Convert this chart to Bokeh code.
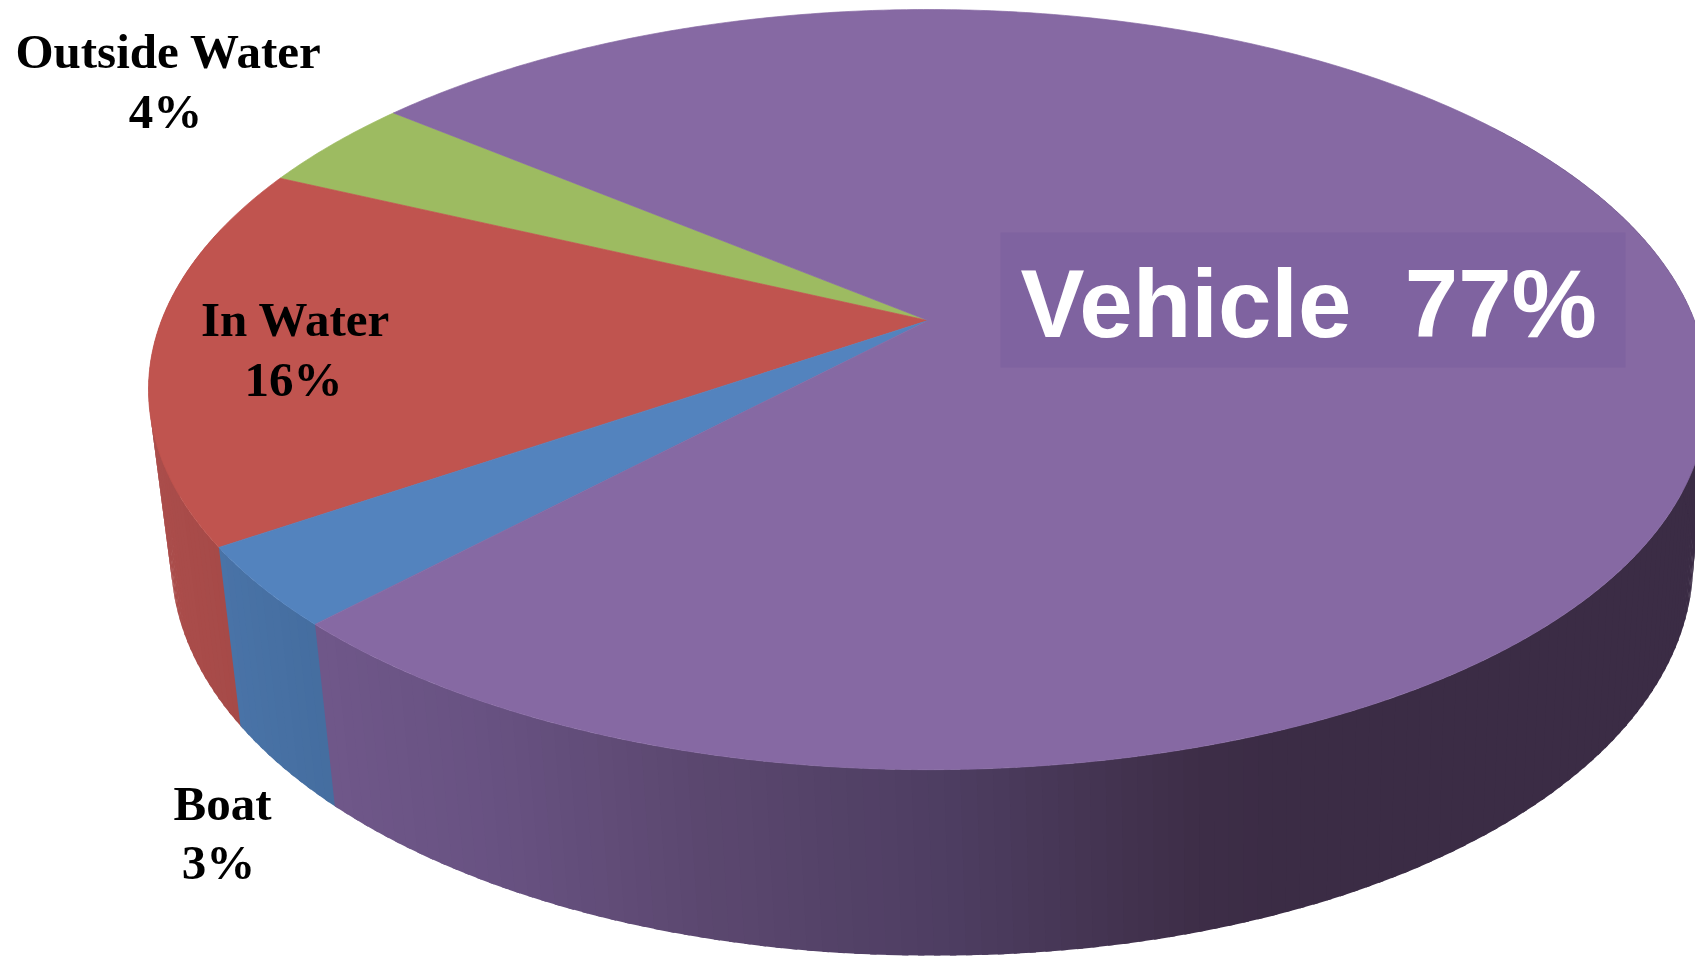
import numpy as np
from bokeh.plotting import figure
from bokeh.models import ColumnDataSource
from bokeh.core.properties import value
from bokeh.embed import file_html
from bokeh.resources import INLINE

# ---- data ----
categories = ["Outside Water", "In Water", "Boat", "Vehicle"]
shares = [4.0, 16.2, 3.4, 76.4]              # slice sizes as drawn (percent)
percent_labels = ["4%", "16%", "3%", "77%"]  # printed labels

# ---- style ----
top_colors = {"Outside Water": "#9DBB61", "In Water": "#C0544F", "Boat": "#5383BE", "Vehicle": "#8669A3"}
W, H = 1695, 956
START_DEG = 141.0
SERIF_PX = 49
SANS_PX = 96
BASE_SHIFT = 0.38   # renderer's baseline offset, as a share of font size

def top_ring(theta):
    u, v = np.cos(theta), np.sin(theta)
    d = 1 + 0.1818 * v
    sag = 12 * np.clip(u, 0, None) ** 2 * np.sqrt(np.clip(-v, 0, None))  # lower right dips slightly
    return 927.5 + 766.5 * u / d, 320 - 367.5 * v / d + sag

def low_ring(theta):
    u, v = np.cos(theta), np.sin(theta)
    d = 1 + 0.18 * v
    pull = 5 * np.clip(u, 0, None) ** 4
    sag = 4 * np.sqrt(np.clip(-v, 0, None)) * np.abs(u)
    return 934 + 751 * u / d - pull, 485.5 - 385 * v / d + sag

def side_color(cat, x):
    if cat == "Vehicle":
        xs = [320, 500, 700, 950, 1200, 1300]
        r = [112, 104, 92, 78, 62, 59]
        g = [88, 82, 72, 62, 46, 44]
        b = [138, 130, 112, 98, 72, 69]
    elif cat == "Boat":
        xs = [220, 330]
        r, g, b = [74, 69], [116, 110], [168, 160]
    else:
        xs = [150, 240]
        r, g, b = [172, 166], [78, 74], [76, 72]
    return "#%02x%02x%02x" % (int(np.interp(x, xs, r)), int(np.interp(x, xs, g)), int(np.interp(x, xs, b)))

edges = START_DEG + np.concatenate([[0], np.cumsum(shares)]) * 3.6

p = figure(width=W, height=H, x_range=(0, W), y_range=(H, 0),
           output_backend="svg", toolbar_location=None, min_border=0,
           background_fill_color="white", border_fill_color="white")
p.axis.visible = False
p.grid.visible = False
p.outline_line_color = None

# side wall: narrow strips, each overlapped by the next so no seams show
sx, sy, sc = [], [], []
for cat, a0, a1 in zip(categories, edges[:-1], edges[1:]):
    lo, hi = max(a0, 165), min(a1, 395)
    if hi <= lo:
        continue
    steps = max(1, int(round((hi - lo) / 1.0)))
    grid = np.linspace(lo, hi, steps + 1)
    for d0, d1 in zip(grid[:-1], grid[1:]):
        t0, t1 = np.radians(d0), np.radians(d1 + 0.4)
        x0, y0 = top_ring(t0); x1, y1 = top_ring(t1)
        x2, y2 = low_ring(t1); x3, y3 = low_ring(t0)
        sx.append([x0, x1, x2, x3]); sy.append([y0, y1, y2, y3])
        sc.append(side_color(cat, (x0 + x1 + x2 + x3) / 4))
p.patches("x", "y", source=ColumnDataSource(dict(x=sx, y=sy, c=sc)),
          fill_color="c", line_color=None)

# top face
tx, ty, tc = [], [], []
for cat, a0, a1 in zip(categories, edges[:-1], edges[1:]):
    t = np.radians(np.linspace(a0, a1, max(3, int(a1 - a0) * 2)))
    rx, ry = top_ring(t)
    tx.append([927.5] + rx.tolist()); ty.append([320.0] + ry.tolist())
    tc.append(top_colors[cat])
p.patches("x", "y", source=ColumnDataSource(dict(x=tx, y=ty, c=tc)),
          fill_color="c", line_color="c", line_width=0.7)

# box behind the big label
p.quad(left=[1000], right=[1625], top=[232], bottom=[367], fill_color="#7F63A0", line_color=None)

# labels
serif_x = [168, 165, 295, 293, 222, 218]
serif_y = np.array([70, 130, 338, 398, 822, 881]) - BASE_SHIFT * SERIF_PX
serif_t = [categories[0], percent_labels[0], categories[1], percent_labels[1], categories[2], percent_labels[2]]
p.text(serif_x, serif_y.tolist(), text=serif_t, text_font=value("Liberation Serif"), text_font_style="bold",
       text_font_size=f"{SERIF_PX}px", text_color="black", text_align="center", text_baseline="alphabetic")
p.text([1020], [339 - BASE_SHIFT * SANS_PX], text=[f"{categories[3]}\u00a0\u00a0{percent_labels[3]}"],
       text_font=value("Liberation Sans"), text_font_style="bold", text_font_size=f"{SANS_PX}px",
       text_color="white", text_align="left", text_baseline="alphabetic")

open("out.html", "w").write(file_html(p, INLINE))
